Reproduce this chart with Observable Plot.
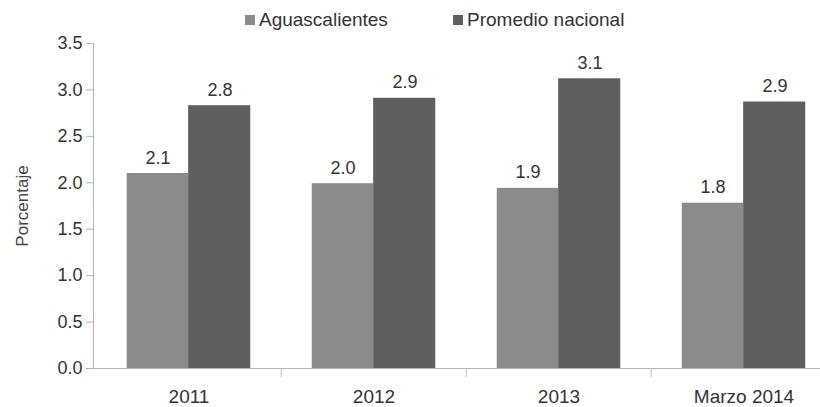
<!DOCTYPE html>
<html>
<head>
<meta charset="utf-8">
<script src="https://cdn.jsdelivr.net/npm/d3@7"></script>
<script src="https://cdn.jsdelivr.net/npm/@observablehq/plot@0.6"></script>
<style>
  html, body { margin: 0; padding: 0; background: #fff; }
  #wrap { position: relative; width: 820px; height: 407px; font-family: "Liberation Sans", Arial, sans-serif; color: #333; }
  .leg { position: absolute; top: 8px; font-size: 19px; line-height: 24px; white-space: nowrap; }
  .leg span.sw { display: inline-block; width: 10px; height: 10px; margin-right: 4px; vertical-align: 1px; }
  #chart { position: absolute; left: 0; top: 0; }
</style>
</head>
<body>
<div id="wrap">
  <div id="chart"></div>
  <div class="leg" style="left:245px"><span class="sw" style="background:#8b8b8b"></span>Aguascalientes</div>
  <div class="leg" style="left:453px"><span class="sw" style="background:#5f5f5f"></span>Promedio nacional</div>
</div>
<script>
const years = ["2011", "2012", "2013", "Marzo 2014"];
const series = ["Aguascalientes", "Promedio nacional"];
const aguascalientes = [2.10, 1.99, 1.94, 1.78];
const promedio = [2.83, 2.91, 3.12, 2.87];
const yTicks = [0, 0.5, 1.0, 1.5, 2.0, 2.5, 3.0, 3.5];
const colors = ["#8b8b8b", "#5f5f5f"];

const ag = years.map((y, i) => ({year: y, series: series[0], value: aguascalientes[i]}));
const pr = years.map((y, i) => ({year: y, series: series[1], value: promedio[i]}));

const W = 820, H = 407;
const xRange = [95, 837];
const step = (xRange[1] - xRange[0]) / years.length;
const barW = 62;
const outer = (step - 2 * barW) / 2;
const fmt = d3.format(".1f");

const plot = Plot.plot({
  width: W,
  height: H,
  marginTop: 43,
  marginBottom: 39,
  marginLeft: 93,
  marginRight: 0,
  style: {fontFamily: '"Liberation Sans", Arial, sans-serif', color: "#333", background: "transparent", overflow: "visible"},
  x: {type: "band", domain: years, range: xRange, padding: 0},
  y: {domain: [0, 3.5]},
  marks: [
    Plot.barY(ag, {x: "year", y: "value", fill: colors[0], insetLeft: outer, insetRight: step - outer - barW}),
    Plot.barY(pr, {x: "year", y: "value", fill: colors[1], insetLeft: outer + barW - 0.6, insetRight: outer}),
    Plot.text(ag, {x: "year", y: "value", text: d => fmt(d.value), dx: -barW / 2, dy: -10, lineAnchor: "bottom", fontSize: 18, fill: "#333"}),
    Plot.text(pr, {x: "year", y: "value", text: d => fmt(d.value), dx: barW / 2, dy: -10, lineAnchor: "bottom", fontSize: 18, fill: "#333"}),
    Plot.frame({anchor: "left", stroke: "#b5b5b5"}),
    Plot.frame({anchor: "bottom", stroke: "#b5b5b5"}),
    Plot.ruleX(years.slice(1), {x: d => d, dx: -step / 2, y1: 0, y2: -0.1, stroke: "#c0c0c0"}),
    Plot.axisY({ticks: yTicks, tickFormat: ".1f", tickSize: 7, tickPadding: 4, fontSize: 18, label: null, stroke: "#b5b5b5", fill: "#333"}),
    Plot.axisX({tickSize: 0, tickPadding: 21, fontSize: 19, label: null, fill: "#333"}),
    Plot.text(["Porcentaje"], {frameAnchor: "left", dx: -71, rotate: -90, textAnchor: "middle", fontSize: 17, fill: "#444"})
  ]
});
document.getElementById("chart").appendChild(plot);
</script>
</body>
</html>
